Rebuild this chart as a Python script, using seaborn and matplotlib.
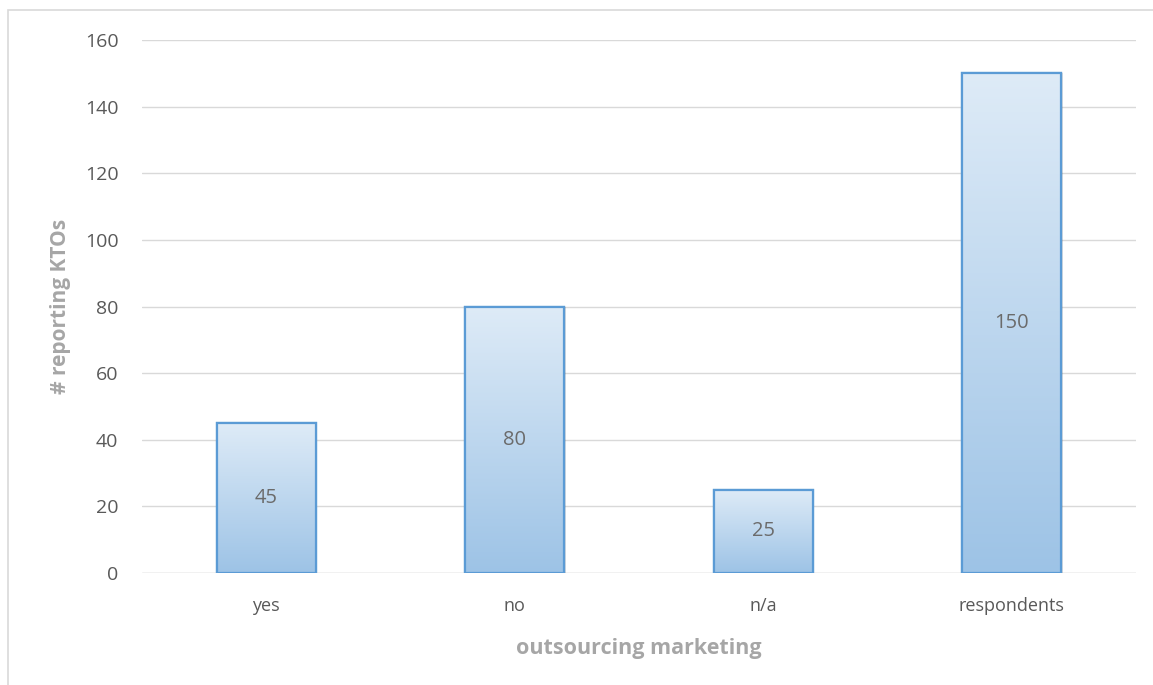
import numpy as np
import pandas as pd
import matplotlib
matplotlib.use("Agg")
import matplotlib.pyplot as plt
from matplotlib.colors import LinearSegmentedColormap
from matplotlib.patches import Rectangle
import seaborn as sns

categories = ["yes", "no", "n/a", "respondents"]
counts = [45, 80, 25, 150]
y_ticks = [0, 20, 40, 60, 80, 100, 120, 140, 160]

sns.set_theme(style="white")
plt.rcParams["font.family"] = ["Open Sans", "DejaVu Sans"]

df = pd.DataFrame({"outcome": categories, "n": counts})

fig = plt.figure(figsize=(11.53, 6.85), dpi=100)
ax = fig.add_axes([142 / 1153, 112 / 685, (1136 - 142) / 1153, (573 - 40) / 685])

sns.barplot(data=df, x="outcome", y="n", ax=ax, width=0.40,
            color="#bdd7ee", edgecolor="#5b9bd5", linewidth=1.6, zorder=3)

# vertical gradient fill inside each bar
grad = LinearSegmentedColormap.from_list("bluegrad", ["#9dc3e6", "#deebf7"])
gradient = np.linspace(0, 1, 256).reshape(-1, 1)
for patch in list(ax.patches):
    x0, y0 = patch.get_x(), patch.get_y()
    w, h = patch.get_width(), patch.get_height()
    # soft drop shadow
    shadow = Rectangle((x0 + 0.006, y0), w, h, facecolor="#000000", alpha=0.12,
                       edgecolor="none", zorder=2)
    ax.add_patch(shadow)
    im = ax.imshow(gradient, extent=[x0, x0 + w, y0, y0 + h], origin="lower",
                   cmap=grad, aspect="auto", zorder=3.5)
    im.set_clip_path(patch)
    edge = Rectangle((x0, y0), w, h, facecolor="none", edgecolor="#5b9bd5",
                     linewidth=1.6, zorder=4)
    ax.add_patch(edge)
    ax.text(x0 + w / 2, y0 + h / 2, f"{int(round(h))}", ha="center", va="center",
            fontsize=14.5, color="#6b6b6b", zorder=5)

ax.set_xlim(-0.5, len(categories) - 0.5)
ax.set_ylim(0, 160)
ax.set_yticks(y_ticks)
ax.yaxis.grid(True, color="#d9d9d9", linewidth=1.0, zorder=0)
ax.xaxis.grid(False)
for s in ax.spines.values():
    s.set_visible(False)
ax.axhline(0, color="#d9d9d9", linewidth=1.0, zorder=1)

ax.tick_params(axis="both", length=0, labelsize=13, labelcolor="#595959")
ax.tick_params(axis="y", labelsize=14, pad=17)
ax.tick_params(axis="x", pad=17)

ax.set_xlabel("outsourcing marketing", fontsize=15.5, fontweight="bold",
              color="#a6a6a6", labelpad=17)
ax.set_ylabel("# reporting KTOs", fontsize=15, fontweight="bold",
              color="#a6a6a6", labelpad=10)

# chart area border
fig.patches.append(Rectangle((8 / 1153, -0.1), 1.2, (685 - 10) / 685 + 0.1,
                             transform=fig.transFigure, facecolor="none",
                             edgecolor="#d9d9d9", linewidth=1.2))

fig.savefig("out.png", dpi=100)
